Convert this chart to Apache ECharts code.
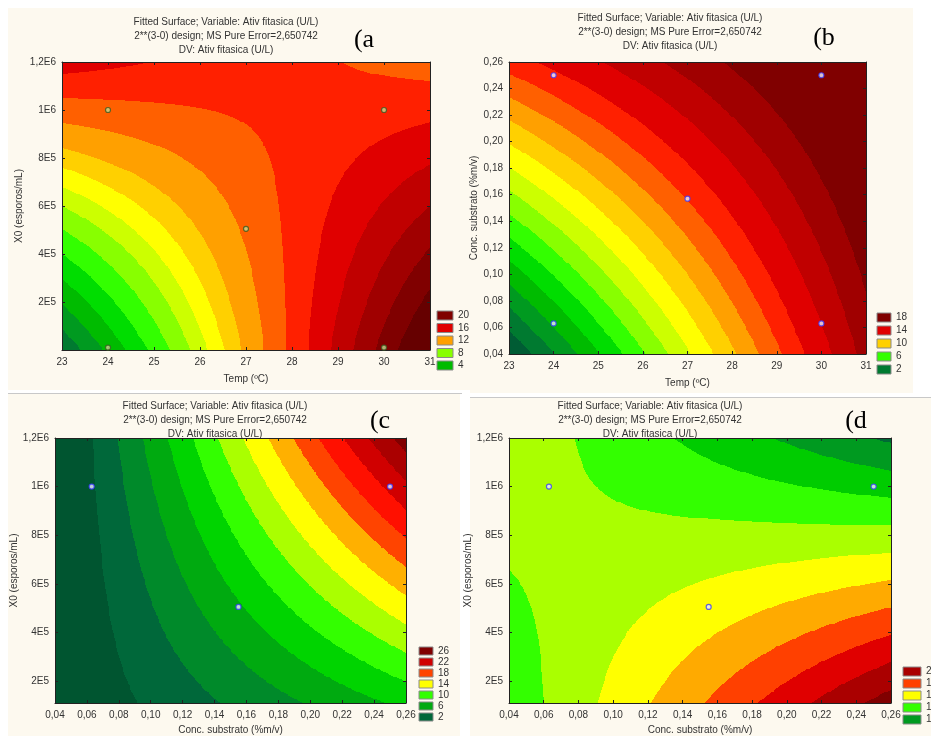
<!DOCTYPE html>
<html><head><meta charset="utf-8">
<script src="https://cdn.jsdelivr.net/npm/echarts@6/dist/echarts.min.js"></script>
<style>html,body{margin:0;padding:0;background:#fff}#c{width:931px;height:736px}</style>
</head><body><div id="c"></div>
<script>
// ---------- colour scales (Statistica green -> red) ----------
const palette = ['#005c34','#007a30','#009a20','#00bb00','#00dd00','#33ff00','#88ff00','#ccff00','#ffff00',
                 '#ffd000','#ffa000','#ff6000','#ff2000','#e00000','#c00000','#a00000','#800000','#660000'];
const cColors = ['#005530','#00683a','#008a2a','#00aa10','#00d400','#33ff00','#aaff00','#ffff00',
                 '#ffb000','#ff4400','#ff1000','#d00000','#aa0000','#800000'];
const dColors = ['#006a35','#009a20','#00cc00','#33ff00','#aaff00','#ffff00','#ffaa00','#ff4000','#e00000','#aa0000','#800000'];

const titleLine1 = 'Fitted Surface; Variable: Ativ fitasica (U/L)';
const titleLine2 = '2**(3-0) design; MS Pure Error=2,650742';
const titleLine3 = 'DV: Ativ fitasica (U/L)';

// ---------- panel (a): Temp x X0 ----------
const aXRange = [23, 31];
const aYRange = [0, 1200000];
const aCornerZ = [1.5, 23, 16.5, 14];          // (xmin,ymin) (xmax,ymin) (xmin,ymax) (xmax,ymax)
const aLevels = [1.3, 2.6, 3.9, 5.2, 6.5, 7.8, 9, 10, 11, 12, 13.3, 14.6, 15.9, 17.2, 18.5, 19.8, 21.1];
const aLegend = [20, 16, 12, 8, 4];
const aPoints = [[24, 1000000], [30, 1000000], [27, 505000], [24, 10000], [30, 10000]];

// ---------- panel (b): Temp x substrate ----------
const bXRange = [23, 31];
const bYRange = [0.04, 0.26];
const bCornerZ = [0.5, 16.2, 13, 19.5];
const bLevels = [1.5, 2.5, 3.5, 4.5, 5.5, 6.5, 7.5, 8.5, 9.5, 10.5, 11.5, 12.5, 13.5, 14.7, 15.8, 16.9];
const bLegend = [18, 14, 10, 6, 2];
const bPoints = [[24, 0.25], [30, 0.25], [27, 0.157], [24, 0.063], [30, 0.063]];

// ---------- panel (c): substrate x X0 ----------
const cXRange = [0.04, 0.26];
const cYRange = [110000, 1200000];
const cCornerZ = [0, 8.5, -1, 27];
const cLevels = [2, 4, 6, 8, 10, 12, 14, 16, 18, 20, 22, 24, 26];
const cLegend = [26, 22, 18, 14, 10, 6, 2];
const cPoints = [[0.063, 1000000], [0.25, 1000000], [0.155, 505000]];

// ---------- panel (d): substrate x X0 ----------
const dXRange = [0.04, 0.26];
const dYRange = [110000, 1200000];
const dCornerZ = [14.34, 21.49, 15.66, 11.81];
const dLevels = [12, 13, 14, 15, 16, 17, 18, 19, 20, 21];
const dLegend = [20, 18, 16, 14, 12];
const dPoints = [[0.063, 1000000], [0.25, 1000000], [0.155, 505000]];

const x0Ticks = [200000, 400000, 600000, 800000, 1000000, 1200000];

// ---------- helpers ----------
function fmtX0(v){ if (v >= 1e6) return String(Math.round(v/1e5)/10).replace('.', ',') + 'E6'; return Math.round(v/1e5) + 'E5'; }
function fmtDec(v){ return Number(v).toFixed(2).replace('.', ','); }
function bandIndex(z, levels){ let k = 0; while (k < levels.length && z >= levels[k]) k++; return k; }

// fitted 2-level factorial surface (main effects + interaction) evaluated on a fine grid
function buildCells(xr, yr, cz, levels){
  const nx = 400, ny = 300;
  const dx = (xr[1]-xr[0])/nx, dy = (yr[1]-yr[0])/ny;
  const out = [];
  for (let j = 0; j < ny; j++){
    const ya = yr[0] + j*dy, yb = ya + dy, t = (j+0.5)/ny;
    let start = 0, cur = -1;
    for (let i = 0; i <= nx; i++){
      let b = -2;
      if (i < nx){
        const s = (i+0.5)/nx;
        const z = cz[0]*(1-s)*(1-t) + cz[1]*s*(1-t) + cz[2]*(1-s)*t + cz[3]*s*t;
        b = bandIndex(z, levels);
      }
      if (b !== cur){
        if (cur >= 0) out.push([xr[0]+start*dx, xr[0]+i*dx, ya, yb, cur]);
        start = i; cur = b;
      }
    }
  }
  return out;
}

const panels = [
  { grid:{left:62, top:62, width:368, height:288}, xr:aXRange, yr:aYRange, cz:aCornerZ, levels:aLevels, colors:palette, legend:aLegend, pts:aPoints,
    xInterval:1, xFmt:v=>String(v), yVals:x0Ticks, yFmt:fmtX0, xName:'Temp (ºC)', yName:'X0 (esporos/mL)', xGap:24, yGap:38,
    titleX:226, titleY:22, tag:'(a', tagX:364, tagY:40,
    legX:437, legY:311, legW:16, legH:9, legStep:12.5,
    ptFill:'#c8d890', ptStroke:'#3a5a20' },
  { grid:{left:509, top:62, width:357, height:292}, xr:bXRange, yr:bYRange, cz:bCornerZ, levels:bLevels, colors:palette, legend:bLegend, pts:bPoints,
    xInterval:1, xFmt:v=>String(v), yInterval:0.02, yFmt:fmtDec, xName:'Temp (ºC)', yName:'Conc. substrato (%m/v)', xGap:24, yGap:30,
    titleX:670, titleY:18, tag:'(b', tagX:824, tagY:38,
    legX:877, legY:313, legW:14, legH:9, legStep:13,
    ptFill:'#eef0ff', ptStroke:'#3b3bff' },
  { grid:{left:55, top:438, width:351, height:266}, xr:cXRange, yr:cYRange, cz:cCornerZ, levels:cLevels, colors:cColors, legend:cLegend, pts:cPoints,
    xInterval:0.02, xFmt:fmtDec, yVals:x0Ticks, yFmt:fmtX0, xName:'Conc. substrato (%m/v)', yName:'X0 (esporos/mL)', xGap:22, yGap:33,
    titleX:215, titleY:406, tag:'(c', tagX:380, tagY:421,
    legX:419, legY:647, legW:14, legH:8, legStep:11,
    ptFill:'#eef0ff', ptStroke:'#3b3bff' },
  { grid:{left:509, top:438, width:382, height:266}, xr:dXRange, yr:dYRange, cz:dCornerZ, levels:dLevels, colors:dColors, legend:dLegend, pts:dPoints,
    xInterval:0.02, xFmt:fmtDec, yVals:x0Ticks, yFmt:fmtX0, xName:'Conc. substrato (%m/v)', yName:'X0 (esporos/mL)', xGap:22, yGap:24,
    titleX:650, titleY:406, tag:'(d', tagX:856, tagY:421,
    legX:903, legY:667, legW:18, legH:9, legStep:12,
    ptFill:'#eef0ff', ptStroke:'#3b3bff' }
];

const FONT = 'Liberation Sans, Arial, sans-serif';
const grids = [], xAxes = [], yAxes = [], series = [], graphics = [];

// panel backgrounds
[[8,8,462,382],[470,8,443,385],[8,394,452,342],[470,398,461,338]].forEach(r => {
  graphics.push({type:'rect', shape:{x:r[0], y:r[1], width:r[2], height:r[3]}, style:{fill:'#fdf9ef'}, z:-10, silent:true});
});
graphics.push({type:'line', shape:{x1:8, y1:393.5, x2:462, y2:393.5}, style:{stroke:'#c8c8c8', lineWidth:1}, z:-5});
graphics.push({type:'line', shape:{x1:470, y1:397.5, x2:931, y2:397.5}, style:{stroke:'#c8c8c8', lineWidth:1}, z:-5});

panels.forEach((p, g) => {
  grids.push(Object.assign({show:false}, p.grid));
  const common = {gridIndex:g, z:6, splitLine:{show:false},
    axisLine:{show:true, onZero:false, lineStyle:{color:'#222', width:1}}};
  xAxes.push(Object.assign({}, common, {type:'value', position:'bottom', min:p.xr[0], max:p.xr[1], interval:p.xInterval,
    axisTick:{show:true, inside:true, length:3, lineStyle:{color:'#222'}},
    axisLabel:{color:'#333', fontSize:10, fontFamily:FONT, margin:7, formatter:p.xFmt, showMinLabel:true, showMaxLabel:true},
    name:p.xName, nameLocation:'middle', nameGap:p.xGap, nameTextStyle:{color:'#333', fontSize:10, fontFamily:FONT}}));
  xAxes.push(Object.assign({}, common, {type:'value', position:'top', min:p.xr[0], max:p.xr[1], interval:p.xInterval,
    axisTick:{show:true, inside:true, length:3, lineStyle:{color:'#222'}}, axisLabel:{show:false}}));
  const yl = {type:'value', position:'left', min:p.yr[0], max:p.yr[1],
    axisTick:{show:true, inside:true, length:3, lineStyle:{color:'#222'}},
    axisLabel:{color:'#333', fontSize:10, fontFamily:FONT, margin:6, formatter:p.yFmt, showMinLabel:true, showMaxLabel:true},
    name:p.yName, nameLocation:'middle', nameGap:p.yGap, nameRotate:90, nameTextStyle:{color:'#333', fontSize:10, fontFamily:FONT}};
  const yr = {type:'value', position:'right', min:p.yr[0], max:p.yr[1],
    axisTick:{show:true, inside:true, length:3, lineStyle:{color:'#222'}}, axisLabel:{show:false}};
  if (p.yVals){
    yl.axisLabel.customValues = p.yVals; yl.axisTick.customValues = p.yVals;
    yr.axisTick.customValues = p.yVals;
  } else { yl.interval = p.yInterval; yr.interval = p.yInterval; }
  yAxes.push(Object.assign({}, common, yl));
  yAxes.push(Object.assign({}, common, yr));

  const cells = buildCells(p.xr, p.yr, p.cz, p.levels);
  const cols = p.colors;
  series.push({type:'custom', xAxisIndex:2*g, yAxisIndex:2*g, data:cells, encode:{x:[0,1], y:[2,3]},
    clip:true, silent:true, animation:false, z:2,
    renderItem:(params, api) => {
      const a = api.coord([api.value(0), api.value(3)]);
      const b = api.coord([api.value(1), api.value(2)]);
      const x = Math.round(a[0]), y = Math.round(a[1]);
      const w = Math.round(b[0]) - x, h = Math.round(b[1]) - y;
      if (w <= 0 || h <= 0) return {type:'group', children:[]};
      return {type:'rect', shape:{x:x, y:y, width:w, height:h},
              style:{fill:cols[api.value(4)], stroke:null}};
    }});
  series.push({type:'scatter', xAxisIndex:2*g, yAxisIndex:2*g, data:p.pts, symbol:'circle', symbolSize:5, z:7,
    silent:true, animation:false, itemStyle:{color:p.ptFill, borderColor:p.ptStroke, borderWidth:1.2}});

  [titleLine1, titleLine2, titleLine3].forEach((t, i) => {
    graphics.push({type:'text', x:p.titleX, y:p.titleY + i*14, silent:true,
      style:{text:t, fill:'#333', font:'10px ' + FONT, textAlign:'center', textVerticalAlign:'middle'}});
  });
  graphics.push({type:'text', x:p.tagX, y:p.tagY, silent:true,
    style:{text:p.tag, fill:'#000', font:'26px "Liberation Serif", "Times New Roman", serif', textAlign:'center', textVerticalAlign:'middle'}});
  p.legend.forEach((v, i) => {
    const y = p.legY + i*p.legStep;
    graphics.push({type:'rect', shape:{x:p.legX, y:y, width:p.legW, height:p.legH}, silent:true,
      style:{fill:cols[bandIndex(v, p.levels)], stroke:'#8a8a8a', lineWidth:1}});
    graphics.push({type:'text', x:p.legX + p.legW + 5, y:y + p.legH/2, silent:true,
      style:{text:String(v), fill:'#333', font:'10px ' + FONT, textVerticalAlign:'middle'}});
  });
});

const chart = echarts.init(document.getElementById('c'), null, {renderer:'canvas'});
chart.setOption({
  animation:false,
  backgroundColor:'#ffffff',
  grid:grids, xAxis:xAxes, yAxis:yAxes, series:series,
  graphic:{elements:graphics}
});
</script></body></html>
